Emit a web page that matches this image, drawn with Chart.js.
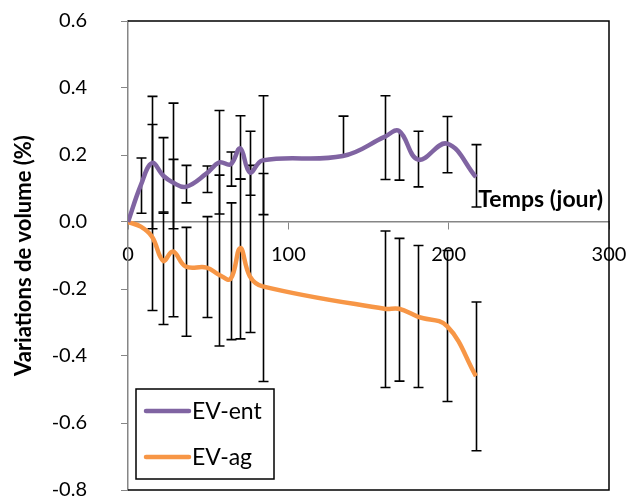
<!DOCTYPE html>
<html>
<head>
<meta charset="utf-8">
<script src="https://cdn.jsdelivr.net/npm/chart.js@4"></script>
<style>
    html, body { margin: 0; padding: 0; background: #fff; }
    #wrap { width: 630px; height: 500px; }
</style>
</head>
<body>
<div id="wrap"><canvas id="chart" width="630" height="500"></canvas></div>
<script>
// EV-ent (violet)
const entDays = [0, 8, 15, 22, 28, 36, 49, 57, 64, 70, 76, 84, 134, 160, 169, 181, 199, 217];
const entValues = [0, 0.11, 0.176, 0.138, 0.118, 0.105, 0.145, 0.178, 0.172, 0.22, 0.148, 0.184, 0.197, 0.254, 0.272, 0.186, 0.234, 0.134];
const entErrLow = [null, 0.026, -0.02, 0.026, -0.02, 0.057, 0.088, 0.024, 0.107, 0.128, 0.08, 0.022, null, 0.127, 0.125, 0.105, 0.147, 0.045];
const entErrHigh = [null, 0.191, 0.375, 0.252, 0.355, 0.169, 0.167, 0.333, 0.209, 0.317, 0.271, 0.377, 0.316, 0.377, null, 0.271, 0.315, 0.231];

// EV-ag (orange)
const agDays = [0, 8, 15, 22, 28, 36, 49, 57, 64, 70, 76, 84, 160, 169, 181, 199, 217];
const agValues = [0, -0.014, -0.044, -0.116, -0.088, -0.133, -0.136, -0.158, -0.17, -0.078, -0.162, -0.192, -0.259, -0.259, -0.283, -0.311, -0.46];
const agErrLow = [null, null, -0.264, -0.306, -0.283, -0.341, -0.285, -0.37, -0.351, -0.349, -0.33, -0.476, -0.494, -0.475, -0.494, -0.536, -0.683];
const agErrHigh = [null, null, 0.291, 0.03, 0.187, -0.016, 0.016, 0.14, 0.057, 0.128, 0.169, 0.145, -0.027, -0.049, -0.07, -0.085, -0.239];

const xTicks = [0, 100, 200, 300];
const yTicks = [-0.8, -0.6, -0.4, -0.2, 0, 0.2, 0.4, 0.6];

const FONT = 'Lato';
const AXIS_GREY = '#868686';

function toPoints(days, values) {
    return days.map((d, i) => ({ x: d, y: values[i] }));
}

// barres d'erreur verticales avec chapeaux
const errorBars = {
    id: 'errorBars',
    beforeDatasetsDraw(chart) {
        const ctx = chart.ctx;
        const xs = chart.scales.x;
        const ys = chart.scales.y;
        ctx.save();
        ctx.strokeStyle = '#000';
        ctx.lineWidth = 1.6;
        chart.data.datasets.forEach(ds => {
            ds.data.forEach((pt, i) => {
                const px = Math.round(xs.getPixelForValue(pt.x)) + 0.5;
                const py = ys.getPixelForValue(pt.y);
                [ds.errLow[i], ds.errHigh[i]].forEach(end => {
                    if (end === null) return;
                    const pe = ys.getPixelForValue(end);
                    ctx.beginPath();
                    ctx.moveTo(px, py);
                    ctx.lineTo(px, pe);
                    ctx.moveTo(px - 5, pe);
                    ctx.lineTo(px + 5, pe);
                    ctx.stroke();
                });
            });
        });
        ctx.restore();
    }
};

// cadre, légende et titre de l'axe X
const decorations = {
    id: 'decorations',
    afterDraw(chart) {
        const ctx = chart.ctx;
        const a = chart.chartArea;
        ctx.save();

        // cadre noir (haut, droite, bas)
        ctx.strokeStyle = '#000';
        ctx.lineWidth = 1.5;
        ctx.beginPath();
        ctx.moveTo(a.left, a.top);
        ctx.lineTo(a.right, a.top);
        ctx.lineTo(a.right, a.bottom);
        ctx.lineTo(a.left, a.bottom);
        ctx.stroke();

        // titre de l'axe X
        ctx.fillStyle = '#000';
        ctx.font = `bold 23px ${FONT}`;
        ctx.textAlign = 'right';
        ctx.textBaseline = 'alphabetic';
        ctx.fillText('Temps (jour)', 603, 207);

        // légende
        const box = { x: 136, y: 389, w: 138, h: 90 };
        ctx.fillStyle = '#fff';
        ctx.fillRect(box.x, box.y, box.w, box.h);
        ctx.strokeStyle = '#000';
        ctx.lineWidth = 1.5;
        ctx.strokeRect(box.x, box.y, box.w, box.h);
        ctx.font = `23px ${FONT}`;
        ctx.textAlign = 'left';
        ctx.textBaseline = 'middle';
        chart.data.datasets.forEach((ds, i) => {
            const yy = box.y + 22 + i * 46;
            ctx.strokeStyle = ds.borderColor;
            ctx.lineWidth = 4.5;
            ctx.lineCap = 'round';
            ctx.beginPath();
            ctx.moveTo(146, yy);
            ctx.lineTo(189, yy);
            ctx.stroke();
            ctx.fillStyle = '#000';
            ctx.fillText(ds.label, 192, yy + 1);
        });
        ctx.restore();
    }
};

const ctx = document.getElementById('chart').getContext('2d');
new Chart(ctx, {
    type: 'line',
    data: {
        datasets: [
            {
                label: 'EV-ent',
                data: toPoints(entDays, entValues),
                errLow: entErrLow,
                errHigh: entErrHigh,
                borderColor: '#8064A2',
                borderWidth: 4.5,
                pointRadius: 0,
                tension: 0.4,
                fill: false
            },
            {
                label: 'EV-ag',
                data: toPoints(agDays, agValues),
                errLow: agErrLow,
                errHigh: agErrHigh,
                borderColor: '#F79646',
                borderWidth: 4.5,
                pointRadius: 0,
                tension: 0.4,
                fill: false
            }
        ]
    },
    options: {
        responsive: false,
        animation: false,
        devicePixelRatio: 1,
        layout: { padding: { left: 0, top: 21, right: 21, bottom: 10 } },
        plugins: {
            legend: { display: false },
            tooltip: { enabled: false }
        },
        scales: {
            x: {
                type: 'linear',
                position: { y: 0 },
                min: 0,
                max: 300,
                afterBuildTicks(scale) {
                    scale.ticks = xTicks.map(v => ({ value: v }));
                },
                afterFit(scale) {
                    scale.height = 0;
                    scale.paddingLeft = 0;
                    scale.paddingRight = 0;
                },
                grid: { drawOnChartArea: false, drawTicks: true, tickLength: 7, color: AXIS_GREY },
                border: { display: true, color: AXIS_GREY, width: 1.5 },
                ticks: {
                    padding: 14,
                    color: '#000',
                    font: { family: FONT, size: 20 },
                    maxRotation: 0
                }
            },
            y: {
                type: 'linear',
                min: -0.8,
                max: 0.6,
                afterBuildTicks(scale) {
                    scale.ticks = yTicks.map(v => ({ value: v }));
                },
                afterFit(scale) {
                    scale.width = 128;
                    scale.paddingTop = 0;
                    scale.paddingBottom = 0;
                },
                grid: { drawOnChartArea: false, drawTicks: true, tickLength: 7, color: AXIS_GREY },
                border: { display: true, color: AXIS_GREY, width: 1.5 },
                ticks: {
                    padding: 34,
                    color: '#000',
                    font: { family: FONT, size: 20 },
                    callback: v => v.toFixed(1)
                },
                title: {
                    display: true,
                    text: 'Variations de volume (%)',
                    color: '#000',
                    font: { family: FONT, size: 22, weight: 'bold' },
                    padding: { top: 11, bottom: 0 }
                }
            }
        }
    },
    plugins: [errorBars, decorations]
});
</script>
</body>
</html>
